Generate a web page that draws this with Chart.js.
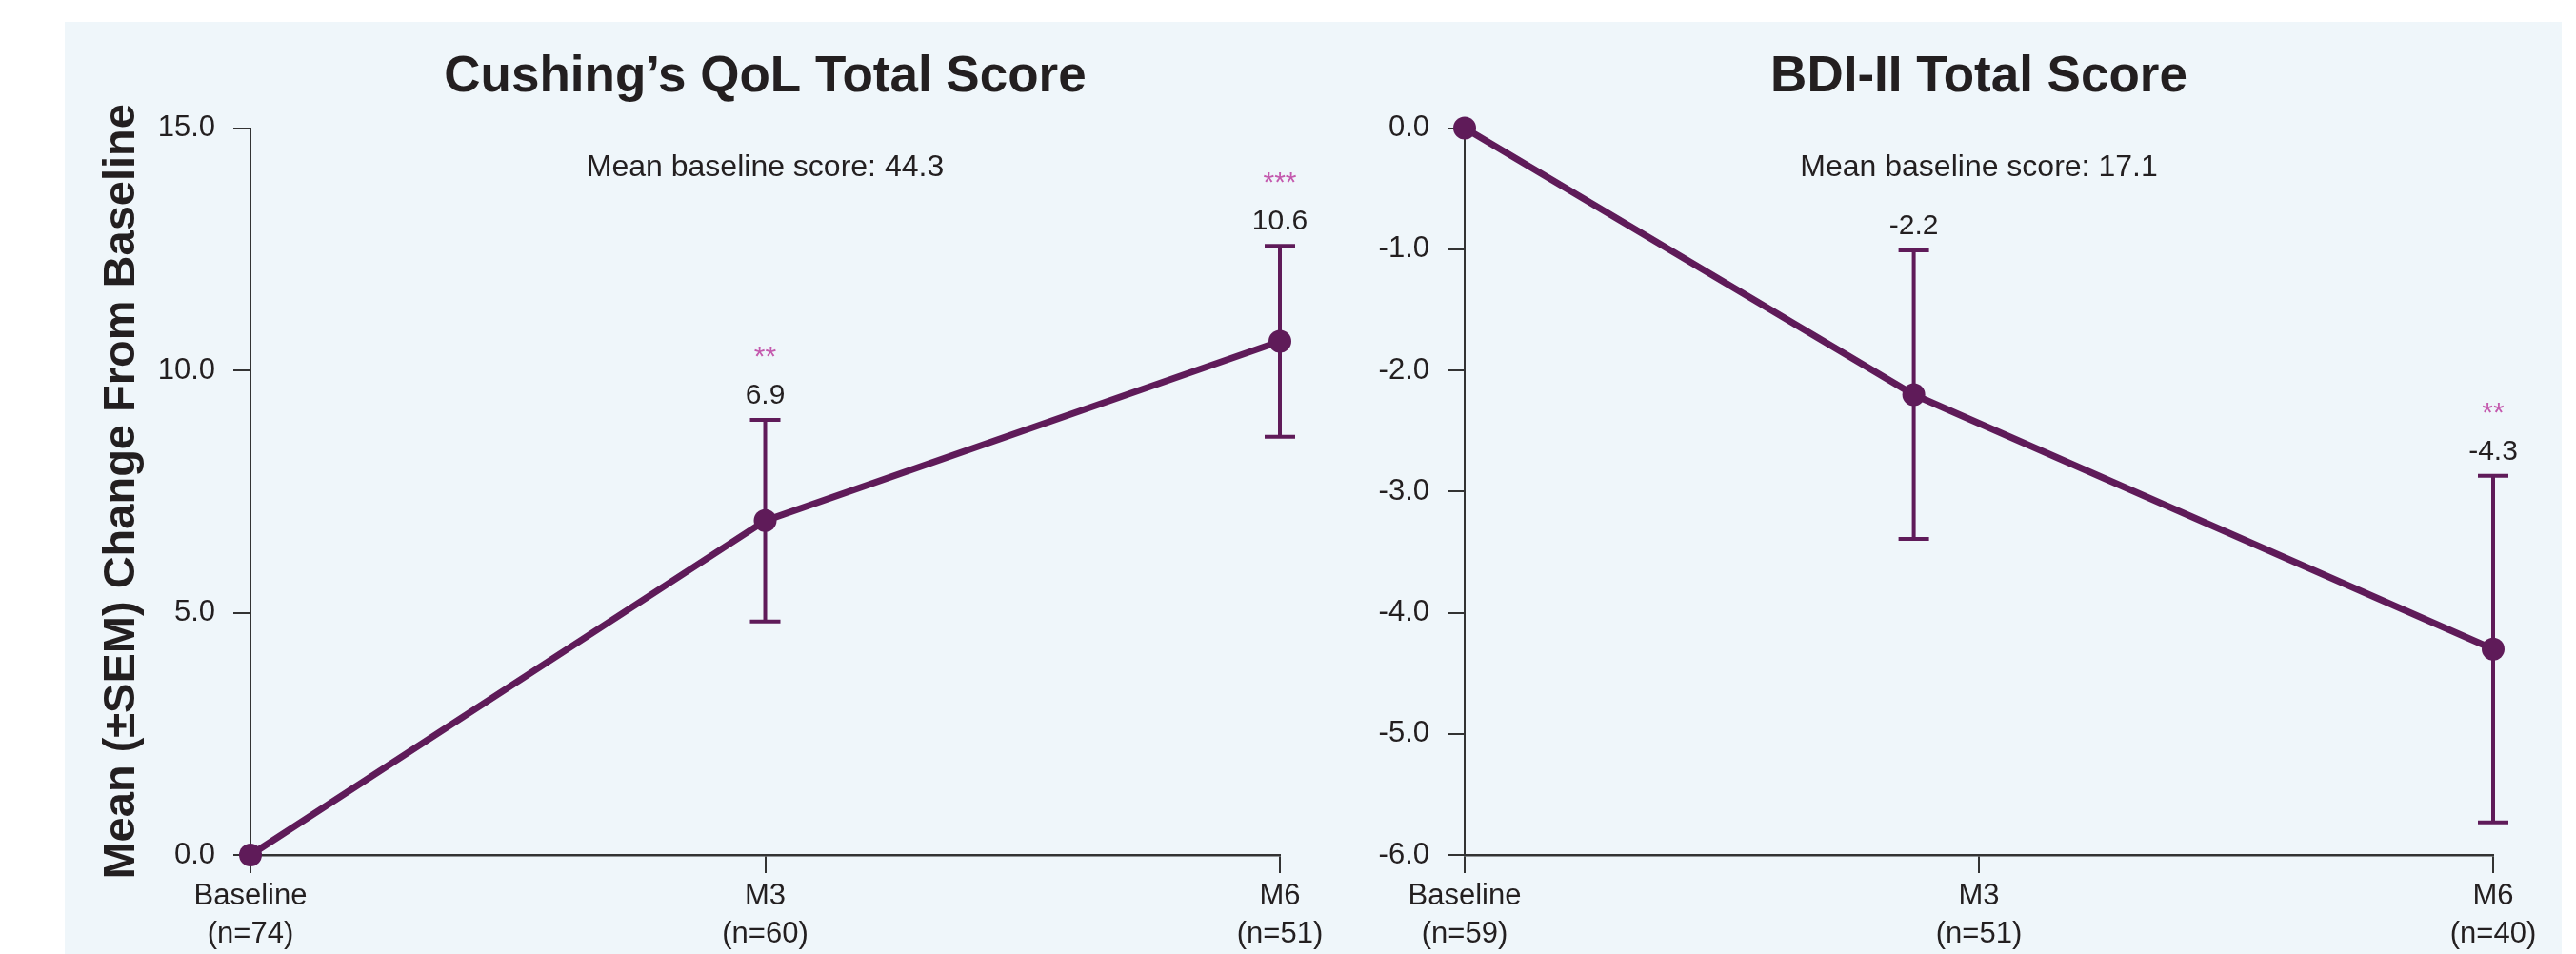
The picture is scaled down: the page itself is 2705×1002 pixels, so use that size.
<!DOCTYPE html>
<html>
<head>
<meta charset="utf-8">
<script src="https://cdn.jsdelivr.net/npm/chart.js@4.4.1/dist/chart.umd.min.js"></script>
<style>
  html, body { margin: 0; padding: 0; background: #ffffff; }
  body { width: 2705px; height: 1002px; position: relative; overflow: hidden; }
  #panel { position: absolute; left: 68px; top: 23px; width: 2622px; height: 979px; background: #EFF6FA; }
  .box { position: absolute; top: 23px; height: 979px; }
  #left { left: 68px; width: 1332px; }
  #right { left: 1400px; width: 1290px; }
</style>
</head>
<body>
<div id="panel"></div>
<div class="box" id="left"><canvas id="qolChart"></canvas></div>
<div class="box" id="right"><canvas id="bdiChart"></canvas></div>
<script>
// données
const tickMonths = [0, 3, 6];

const qolLabels = [['Baseline', '(n=74)'], ['M3', '(n=60)'], ['M6', '(n=51)']];
const qolMonths = [0, 3, 6];
const qolMeans = [0, 6.9, 10.6];
const qolSem = [0, 2.08, 1.97];
const qolSig = ['', '**', '***'];
const qolYTicks = [0, 5, 10, 15];

const bdiLabels = [['Baseline', '(n=59)'], ['M3', '(n=51)'], ['M6', '(n=40)']];
const bdiMonths = [0, 2.62, 6];
const bdiMeans = [0, -2.2, -4.3];
const bdiSem = [0, 1.19, 1.43];
const bdiSig = ['', '', '**'];
const bdiYTicks = [-6, -5, -4, -3, -2, -1, 0];

const purple = '#5F1B59';
const pink = '#C45AAE';
const ink = '#231F20';
const font = "'Liberation Sans', Arial, Helvetica, sans-serif";

// barres d'erreur (moyenne ± SEM) sous la courbe, puis étiquettes
const errorBars = {
  id: 'errorBars',
  beforeDatasetsDraw(chart, args, opts) {
    const ctx = chart.ctx;
    const xs = chart.scales.x, ys = chart.scales.y;
    ctx.save();
    ctx.strokeStyle = purple;
    ctx.lineWidth = 4;
    opts.means.forEach((m, i) => {
      if (!opts.sem[i]) return;
      const x = xs.getPixelForValue(opts.months[i]);
      const top = ys.getPixelForValue(m + opts.sem[i]);
      const bot = ys.getPixelForValue(m - opts.sem[i]);
      ctx.beginPath();
      ctx.moveTo(x, top); ctx.lineTo(x, bot);
      ctx.moveTo(x - 16, top); ctx.lineTo(x + 16, top);
      ctx.moveTo(x - 16, bot); ctx.lineTo(x + 16, bot);
      ctx.stroke();
    });
    ctx.restore();
  },
  afterDatasetsDraw(chart, args, opts) {
    const ctx = chart.ctx;
    const xs = chart.scales.x, ys = chart.scales.y;
    const area = chart.chartArea;
    ctx.save();
    ctx.textAlign = 'center';
    ctx.textBaseline = 'alphabetic';
    // note sur le score initial
    ctx.fillStyle = ink;
    ctx.font = '32px ' + font;
    ctx.fillText(opts.note, (area.left + area.right) / 2, area.top + 50);
    opts.means.forEach((m, i) => {
      if (!opts.sem[i]) return;
      const x = xs.getPixelForValue(opts.months[i]);
      const top = ys.getPixelForValue(m + opts.sem[i]);
      ctx.fillStyle = ink;
      ctx.font = '30px ' + font;
      ctx.fillText(m.toFixed(1), x, top - 17);
      if (opts.sig[i]) {
        ctx.fillStyle = pink;
        ctx.fillText(opts.sig[i], x, top - 57);
      }
    });
    ctx.restore();
  }
};

function makeChart(canvasId, cfg) {
  return new Chart(document.getElementById(canvasId), {
    type: 'line',
    data: {
      datasets: [{
        data: cfg.months.map((m, i) => ({ x: m, y: cfg.means[i] })),
        borderColor: purple,
        backgroundColor: purple,
        borderWidth: 7,
        pointRadius: 12,
        pointBackgroundColor: purple,
        pointBorderWidth: 0,
        tension: 0,
        clip: false
      }]
    },
    options: {
      responsive: true,
      maintainAspectRatio: false,
      animation: false,
      events: [],
      layout: { padding: { left: 0, right: cfg.padRight, top: 0, bottom: 0 } },
      plugins: {
        legend: { display: false },
        tooltip: { enabled: false },
        title: {
          display: true,
          text: cfg.title,
          fullSize: false,
          color: ink,
          font: { family: font, size: 53, weight: 'bold', lineHeight: 1.2 },
          padding: { top: 27, bottom: 21 }
        },
        errorBars: {
          months: cfg.months, means: cfg.means, sem: cfg.sem, sig: cfg.sig, note: cfg.note
        }
      },
      scales: {
        x: {
          type: 'linear',
          min: 0, max: 6,
          afterBuildTicks: (s) => { s.ticks = tickMonths.map(v => ({ value: v })); },
          afterFit: (s) => { s.height = 104; },
          border: { display: true, color: '#333333', width: 2.5 },
          grid: { drawOnChartArea: false, drawTicks: true, tickLength: 19, color: '#333333', lineWidth: 2 },
          ticks: {
            color: ink,
            padding: 4,
            maxRotation: 0,
            font: { family: font, size: 31, lineHeight: 1.3 },
            callback: (v) => cfg.labels[tickMonths.indexOf(v)]
          }
        },
        y: {
          min: cfg.yTicks[0], max: cfg.yTicks[cfg.yTicks.length - 1],
          afterBuildTicks: (s) => { s.ticks = cfg.yTicks.map(v => ({ value: v })); },
          afterFit: (s) => { s.width = cfg.yWidth; },
          border: { display: true, color: '#333333', width: 2 },
          grid: { drawOnChartArea: false, drawTicks: true, tickLength: 18, color: '#333333', lineWidth: 2 },
          ticks: {
            color: ink,
            padding: 19,
            font: { family: font, size: 31 },
            callback: (v) => Number(v).toFixed(1)
          },
          title: cfg.yTitle ? {
            display: true,
            text: cfg.yTitle,
            color: ink,
            font: { family: font, size: 47, weight: 'bold', lineHeight: 1.2 },
            padding: { top: 32, bottom: 0 }
          } : { display: false }
        }
      }
    },
    plugins: [errorBars]
  });
}

makeChart('qolChart', {
  title: 'Cushing\u2019s QoL Total Score',
  note: 'Mean baseline score: 44.3',
  labels: qolLabels, months: qolMonths, means: qolMeans, sem: qolSem, sig: qolSig,
  yTicks: qolYTicks, yWidth: 195, padRight: 56,
  yTitle: 'Mean (\u00B1SEM) Change From Baseline'
});

makeChart('bdiChart', {
  title: 'BDI-II Total Score',
  note: 'Mean baseline score: 17.1',
  labels: bdiLabels, months: bdiMonths, means: bdiMeans, sem: bdiSem, sig: bdiSig,
  yTicks: bdiYTicks, yWidth: 138, padRight: 72,
  yTitle: null
});
</script>
</body>
</html>
